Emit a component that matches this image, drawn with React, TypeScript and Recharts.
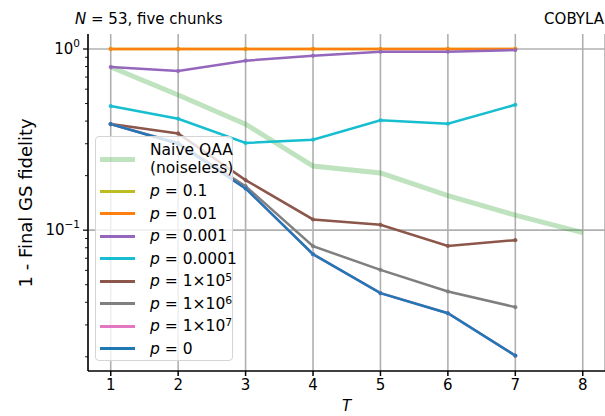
import React from 'react';
import { LineChart, Line, XAxis, YAxis, CartesianGrid, ReferenceLine } from 'recharts';

const T = [1, 2, 3, 4, 5, 6, 7, 8];
const naive = [0.795, 0.557, 0.385, 0.226, 0.207, 0.155, 0.121, 0.097];
const p1e1 = [1, 1, 1, 1, 1, 1, 1];
const p1e2 = [1, 1, 1, 1, 1, 1, 1];
const p1e3 = [0.795, 0.756, 0.862, 0.918, 0.966, 0.966, 0.987];
const p1e4 = [0.484, 0.412, 0.303, 0.316, 0.404, 0.387, 0.492];
const p1e5 = [0.385, 0.342, 0.189, 0.1146, 0.107, 0.0819, 0.0881];
const p1e6 = [0.385, 0.303, 0.175, 0.0816, 0.0604, 0.0459, 0.0376];
const p1e7 = [0.385, 0.3, 0.17, 0.0737, 0.0449, 0.0348, 0.0203];
const p0 = [0.385, 0.3, 0.17, 0.0737, 0.0449, 0.0348, 0.0203];

const yMajor = [0.1, 1];
const yMinor = [0.02, 0.03, 0.04, 0.05, 0.06, 0.07, 0.08, 0.09, 0.2, 0.3, 0.4, 0.5, 0.6, 0.7, 0.8, 0.9];

const data = T.map((t, i) => ({
  T: t,
  naive: naive[i],
  p1e1: p1e1[i],
  p1e2: p1e2[i],
  p1e3: p1e3[i],
  p1e4: p1e4[i],
  p1e5: p1e5[i],
  p1e6: p1e6[i],
  p1e7: p1e7[i],
  p0: p0[i],
}));

const FONT = '"DejaVu Sans", sans-serif';

type Entry = { key: string; color: string; label: React.ReactNode };

const sup = (s: string) => <sup style={{ fontSize: '0.7em', verticalAlign: '0.45em', lineHeight: 0 }}>{s}</sup>;
const P = <span style={{ fontStyle: 'italic' }}>p</span>;

const series: Entry[] = [
  { key: 'p1e1', color: '#bcbd22', label: <>{P} = 0.1</> },
  { key: 'p1e2', color: '#ff7f0e', label: <>{P} = 0.01</> },
  { key: 'p1e3', color: '#9467bd', label: <>{P} = 0.001</> },
  { key: 'p1e4', color: '#17becf', label: <>{P} = 0.0001</> },
  { key: 'p1e5', color: '#8c564b', label: <>{P} = 1×10{sup('5')}</> },
  { key: 'p1e6', color: '#7f7f7f', label: <>{P} = 1×10{sup('6')}</> },
  { key: 'p1e7', color: '#e377c2', label: <>{P} = 1×10{sup('7')}</> },
  { key: 'p0', color: '#1f77b4', label: <>{P} = 0</> },
];

const YTick = (props: any) => {
  const { x, y, payload } = props;
  const v = payload.value;
  const major = yMajor.includes(v);
  return (
    <g>
      <line x1={x} x2={x - (major ? 5 : 3)} y1={y} y2={y} stroke="#000" strokeWidth={major ? 1.2 : 0.9} />
      {major && (
        <text x={x - 8} y={y + 5} textAnchor="end" fontSize={15} fontFamily={FONT} fill="#000">
          10
          <tspan fontSize={10.5} dy={-7}>{v === 1 ? '0' : '−1'}</tspan>
        </text>
      )}
    </g>
  );
};

export default function App() {
  return (
    <div style={{ position: 'absolute', left: 0, top: 0, width: 605, height: 416, background: '#fff', fontFamily: FONT }}>
      <LineChart width={605} height={416} data={data} margin={{ top: 34, right: 0, bottom: 0, left: 0 }}>
        <CartesianGrid horizontal={false} stroke="#b0b0b0" strokeWidth={1.6} />
        <ReferenceLine y={1} stroke="#b0b0b0" strokeWidth={1.6} />
        <ReferenceLine y={0.1} stroke="#b0b0b0" strokeWidth={1.6} />
        <XAxis
          dataKey="T"
          type="number"
          domain={[0.663, 8.33]}
          ticks={T}
          allowDataOverflow
          height={45}
          stroke="#000"
          strokeWidth={1.5}
          tickSize={5}
          tickMargin={3}
          tick={{ fill: '#000', fontSize: 15, fontFamily: FONT }}
          label={{ value: 'T', position: 'insideBottom', offset: 5, fontStyle: 'italic', fontSize: 15, fill: '#000', fontFamily: FONT }}
        />
        <XAxis xAxisId="top" orientation="top" dataKey="T" type="number" domain={[0.663, 8.33]} height={0} tick={false} tickLine={false} stroke="#000" strokeWidth={1.5} />
        <YAxis
          scale="log"
          type="number"
          domain={[0.0167, 1.21]}
          allowDataOverflow
          ticks={[...yMinor, ...yMajor]}
          width={88}
          stroke="#000"
          strokeWidth={1.5}
          tickLine={false}
          tickSize={0}
          tickMargin={0}
          tick={<YTick />}
          interval={0}
          label={{ value: '1 - Final GS fidelity', angle: -90, position: 'insideLeft', offset: 26, dy: 85, fontSize: 18, fill: '#000', fontFamily: FONT }}
        />
        <Line dataKey="naive" stroke="#2ca02c" strokeOpacity={0.3} strokeWidth={5} dot={false} isAnimationActive={false} />
        {series.map((s) => (
          <Line
            key={s.key}
            dataKey={s.key}
            stroke={s.color}
            strokeWidth={2.5}
            dot={{ r: 1.8, fill: s.color, stroke: s.color, strokeWidth: 0.5 }}
            isAnimationActive={false}
          />
        ))}
      </LineChart>

      <div style={{ position: 'absolute', left: 75, top: 10, fontSize: 15, color: '#000' }}>
        <span style={{ fontStyle: 'italic' }}>N</span> = 53, five chunks
      </div>
      <div style={{ position: 'absolute', right: 1, top: 10, fontSize: 15, color: '#000' }}>COBYLA</div>

      <div
        style={{
          position: 'absolute',
          left: 95,
          top: 136,
          width: 138,
          height: 225,
          background: 'rgba(255,255,255,0.8)',
          border: '1px solid #d5d5d5',
          borderRadius: 4,
          fontSize: 15.5,
          color: '#000',
          boxSizing: 'border-box',
        }}
      >
        <div style={{ position: 'absolute', left: 4, top: 4, display: 'flex', alignItems: 'center' }}>
          <div style={{ width: 35, height: 5, background: 'rgba(44,160,44,0.3)' }} />
          <div style={{ marginLeft: 15, lineHeight: '18px' }}>
            Naive QAA
            <br />
            (noiseless)
          </div>
        </div>
        {series.map((s, i) => (
          <div
            key={s.key}
            style={{ position: 'absolute', left: 4, top: 43 + i * 22.5, height: 22, display: 'flex', alignItems: 'center', whiteSpace: 'nowrap' }}
          >
            <div style={{ width: 35, height: 3, background: s.color }} />
            <div style={{ marginLeft: 15 }}>{s.label}</div>
          </div>
        ))}
      </div>
    </div>
  );
}
